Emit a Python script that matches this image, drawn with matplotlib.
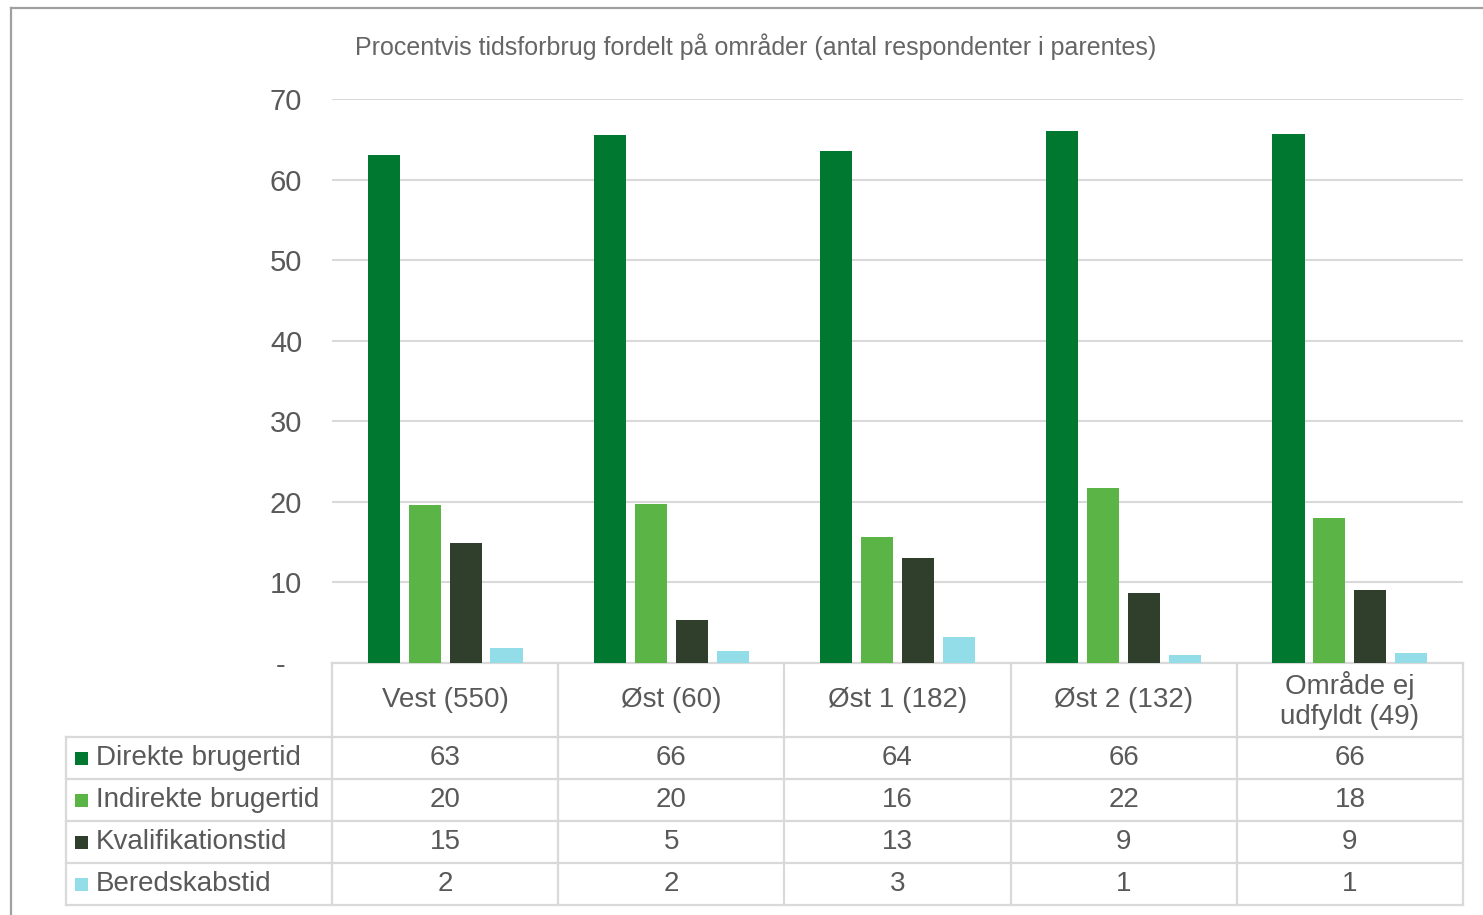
import matplotlib.pyplot as plt
from matplotlib.transforms import blended_transform_factory
from matplotlib.patches import Rectangle

# --- data ---
categories = ["Vest (550)", "Øst (60)", "Øst 1 (182)", "Øst 2 (132)", "Område ej\nudfyldt (49)"]
series_names = ["Direkte brugertid", "Indirekte brugertid", "Kvalifikationstid", "Beredskabstid"]
direkte = [63.0, 65.5, 63.6, 66.0, 65.6]
indirekte = [19.6, 19.7, 15.6, 21.7, 18.0]
kvalifikation = [14.9, 5.3, 13.0, 8.7, 9.1]
beredskab = [1.9, 1.5, 3.2, 1.0, 1.2]
series_values = [direkte, indirekte, kvalifikation, beredskab]
colors = ["#00782f", "#5ab546", "#303f2b", "#92dde8"]
title = "Procentvis tidsforbrug fordelt på områder (antal respondenter i parentes)"

plt.rcParams['font.family'] = ['Liberation Sans', 'DejaVu Sans']
TXT = "#595959"
GRID = "#d9d9d9"

W, H = 1483, 915
fig = plt.figure(figsize=(W / 100, H / 100), dpi=100)

# plot area in pixels
left, right, top, bottom = 332, 1463, 99, 663
ax = fig.add_axes([left / W, 1 - bottom / H, (right - left) / W, (bottom - top) / H])

n = len(categories)
step = 0.181
width = 0.142
for k, (vals, col) in enumerate(zip(series_values, colors)):
    xs = [i + (k - 1.5) * step for i in range(n)]
    ax.bar(xs, vals, width=width, color=col, zorder=3)

ax.set_xlim(-0.5, n - 0.5)
ax.set_ylim(0, 70)
ax.set_yticks(range(0, 71, 10))
ax.set_yticklabels(["-  "] + [str(v) for v in range(10, 71, 10)])
ax.tick_params(axis='y', length=0, pad=21.5, labelsize=21, labelcolor=TXT)
ax.set_xticks([])
for s in ax.spines.values():
    s.set_visible(False)
ax.yaxis.grid(True, color=GRID, linewidth=1.5, zorder=0)

fig.text(756 / W, 1 - 47 / H, title, ha='center', va='center', fontsize=18, color="#666666")

# --- data table below the plot ---
ah = bottom - top
colw = (right - left) / n


def ay(ypix):
    return -(ypix - bottom) / ah


tr = blended_transform_factory(ax.transData, ax.transAxes)
row_lines = [663, 737, 779, 821, 863, 905]
x_label_left = -0.5 - (left - 66) / colw

line_kw = dict(color=GRID, linewidth=1.6, clip_on=False, transform=tr, zorder=1)
# horizontal lines
ax.plot([-0.5, n - 0.5], [ay(663), ay(663)], **line_kw)
for yp in row_lines[1:]:
    ax.plot([x_label_left, n - 0.5], [ay(yp), ay(yp)], **line_kw)
# vertical lines
for i in range(n + 1):
    ax.plot([i - 0.5, i - 0.5], [ay(663), ay(905)], **line_kw)
ax.plot([x_label_left, x_label_left], [ay(737), ay(905)], **line_kw)

# header row
for i, cat in enumerate(categories):
    ax.text(i, ay(700), cat, transform=tr, ha='center', va='center',
            fontsize=20, color=TXT, linespacing=1.2, clip_on=False)

# data rows
row_centers = [758, 800, 842, 884]
for r, (name, vals, col) in enumerate(zip(series_names, series_values, colors)):
    yc = ay(row_centers[r])
    ax.add_patch(Rectangle((x_label_left + 9 / colw, yc - 6.5 / ah), 13 / colw, 13 / ah,
                           transform=tr, facecolor=col, edgecolor='none', clip_on=False))
    ax.text(x_label_left + 30 / colw, yc, name, transform=tr, ha='left',
            va='center', fontsize=20, color=TXT, clip_on=False)
    for i, v in enumerate(vals):
        ax.text(i, yc, f"{round(v):d}", transform=tr, ha='center', va='center',
                fontsize=20, color=TXT, clip_on=False)

# outer chart frame (left and top edges visible)
fig.add_artist(plt.Line2D([11 / W, 11 / W], [0, 1 - 8 / H], color="#a0a0a0", linewidth=1.6))
fig.add_artist(plt.Line2D([11 / W, 1], [1 - 8 / H, 1 - 8 / H], color="#a0a0a0", linewidth=1.6))

fig.savefig("out.png", dpi=100)
